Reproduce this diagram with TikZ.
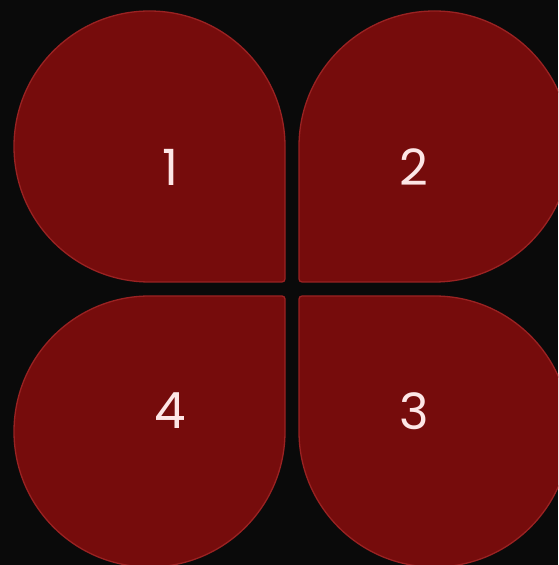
\documentclass[tikz,border=0pt]{standalone}
\usepackage{fontspec}
\setmainfont{Poppins}
\definecolor{bg}{HTML}{0A0A0A}
\definecolor{petalfill}{HTML}{760C0C}
\definecolor{petaledge}{HTML}{9A2222}
\definecolor{labelcol}{HTML}{FDE6E6}
\tikzset{
  petal/.style={fill=petalfill, draw=petaledge, line width=1.3pt},
  petallabel/.style={text=labelcol, font=\fontsize{50}{50}\selectfont, inner sep=0pt, anchor=center},
}
\newcommand{\petalpath}{%
  (135.5,-132.5) -- (135.5,0) arc[start angle=0,end angle=90,radius=135.5]
  arc[start angle=90,end angle=180,radius=135.5]
  arc[start angle=180,end angle=270,radius=135.5]
  -- (132.5,-135.5) arc[start angle=270,end angle=360,radius=3] -- cycle}
\begin{document}
\begin{tikzpicture}[x=1pt,y=1pt]
\fill[bg] (0,0) rectangle (558,565);
\useasboundingbox (0,0) rectangle (558,565);
\clip (0,0) rectangle (558,565);
\begin{scope}[shift={(149.5,418.5)}]
  \path[petal] \petalpath;
\end{scope}
\begin{scope}[shift={(434.5,418.5)},rotate=-90]
  \path[petal] \petalpath;
\end{scope}
\begin{scope}[shift={(434.5,133.5)},rotate=180]
  \path[petal] \petalpath;
\end{scope}
\begin{scope}[shift={(149.5,133.5)},rotate=90]
  \path[petal] \petalpath;
\end{scope}
\node[petallabel] (l1) at (170,398) {1};
\node[petallabel] (l2) at (414,398) {2};
\node[petallabel] (l3) at (414,154) {3};
\node[petallabel] (l4) at (170,154) {4};
\end{tikzpicture}
\end{document}
